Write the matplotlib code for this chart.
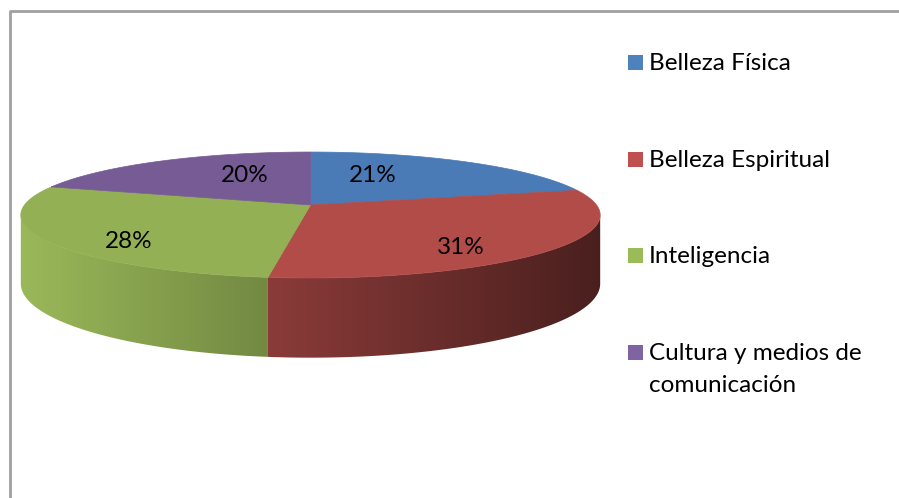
import numpy as np
import matplotlib
matplotlib.use('Agg')
from matplotlib import pyplot as plt
from matplotlib.patches import Polygon, Rectangle
from matplotlib.lines import Line2D

plt.rcParams['font.family'] = ['Lato', 'DejaVu Sans']

# data
values = [21, 31, 28, 20]
labels = ['Belleza Física', 'Belleza Espiritual', 'Inteligencia',
          'Cultura y medios de\ncomunicación']
pct_text = ['21%', '31%', '28%', '20%']

# styles
top_colors = ['#4a7bb7', '#b24c49', '#93b055', '#775b94']
legend_colors = ['#4f81bd', '#c0504d', '#9bbb59', '#8064a2']

# pie geometry (pixels)
CX, CY = 310.5, 205.0
RX, RY = 286.0, 61.4
K = 0.159          # perspective strength
DEPTH = 67.0
LABEL_XY = [(373, 175), (461, 247), (129, 241), (245, 175)]
FONT_SIZE = 17.5

# legend layout (pixels)
LEG_X, LEG_Y0, LEG_STEP = 628, 62.5, 96.7
LINE_STEP = 32


def proj(t, depth=0.0):
    u, v = np.cos(t), np.sin(t)
    w = 1 + K * v
    return CX + RX * u / w, CY - RY * v / w + DEPTH * depth / w


def arc(a, b, depth=0.0, n=200):
    t = np.radians(np.linspace(a, b, n))
    x, y = proj(t, depth)
    return np.column_stack([x, y])


def side_shade(x):
    return np.clip(1.05 - 0.0011 * (x - 21), 0, 1.2)


fig = plt.figure(figsize=(8.99, 4.98), dpi=100)
ax = fig.add_axes([0, 0, 1, 1])

total = float(sum(values))
starts, ends = [], []
t0 = 90.0
for v in values:
    t1 = t0 - 360.0 * v / total
    starts.append(t0)
    ends.append(t1)
    t0 = t1

# visible band of the side wall
vis_lo = -180 + np.degrees(np.arcsin(K))
vis_hi = -np.degrees(np.arcsin(K))

xs = np.linspace(0, 899, 900)
shade = side_shade(xs)

for i in range(len(values)):
    for shift in (-360, 0, 360):
        lo = max(ends[i] + shift, vis_lo)
        hi = min(starts[i] + shift, vis_hi)
        if hi <= lo:
            continue
        pts = np.vstack([arc(lo, hi, 0), arc(hi, lo, 1)])
        poly = Polygon(pts, closed=True, facecolor='none', edgecolor='none')
        ax.add_patch(poly)
        rgb = np.array(matplotlib.colors.to_rgb(top_colors[i]))
        img = np.clip(shade[:, None] * rgb[None, :], 0, 1)[None, :, :]
        im = ax.imshow(img, extent=(0, 899, 498, 0), aspect='auto',
                       interpolation='bilinear', zorder=1)
        im.set_clip_path(poly)

for i in range(len(values)):
    pts = np.vstack([[CX, CY], arc(starts[i], ends[i], 0)])
    ax.add_patch(Polygon(pts, closed=True, facecolor=top_colors[i],
                         edgecolor=top_colors[i], linewidth=0.5, zorder=2))
    ax.text(LABEL_XY[i][0], LABEL_XY[i][1], pct_text[i], fontsize=FONT_SIZE,
            ha='center', va='center', color='black', zorder=3)

# legend
for i, lab in enumerate(labels):
    y = LEG_Y0 + i * LEG_STEP
    ax.add_patch(Rectangle((LEG_X, y - 7.5), 15, 15, facecolor=legend_colors[i],
                           edgecolor='none', zorder=3))
    for j, line in enumerate(lab.split('\n')):
        ax.text(LEG_X + 21, y + 7.5 + j * LINE_STEP, line, fontsize=FONT_SIZE,
                ha='left', va='baseline', color='black', zorder=3)

# chart area border (top and left)
ax.add_line(Line2D([10, 10, 899], [498, 11, 11], color='#a0a0a0', linewidth=2))

ax.set_xlim(0, 899)
ax.set_ylim(498, 0)
ax.axis('off')

plt.savefig('out.png', dpi=100)
